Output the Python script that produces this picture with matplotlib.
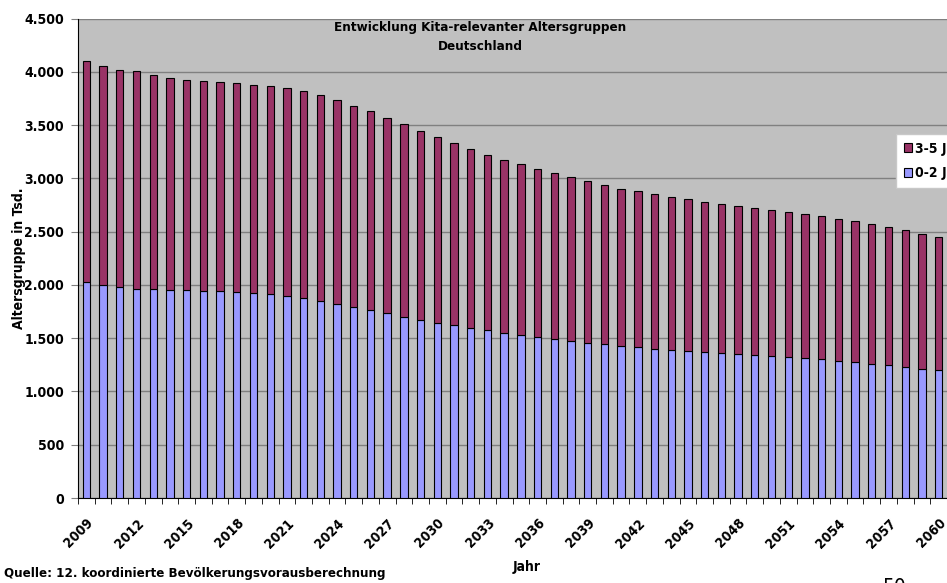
import numpy as np
import matplotlib
matplotlib.use("Agg")
import matplotlib.pyplot as plt
import matplotlib.transforms as mtrans
from matplotlib.ticker import FuncFormatter, FixedLocator

plt.rcParams['font.family'] = ['DejaVu Sans']
plt.rcParams['font.stretch'] = 'condensed'

# Jahre 2009 - 2060
years = list(range(2009, 2061))

# Gesamt (0-5 J) in Tsd.
total = [4100, 4053, 4019, 4003, 3966, 3937, 3925, 3916, 3906, 3894,
         3878, 3866, 3844, 3816, 3778, 3734, 3681, 3628, 3569, 3506,
         3444, 3384, 3328, 3272, 3222, 3175, 3134, 3091, 3050, 3009,
         2972, 2941, 2903, 2878, 2853, 2828, 2803, 2781, 2763, 2741,
         2725, 2706, 2688, 2669, 2647, 2622, 2597, 2572, 2544, 2516,
         2481, 2453]

# 0-2 J in Tsd.
age_0_2 = [2028, 2003, 1978, 1966, 1959, 1956, 1948, 1946, 1943, 1936,
           1926, 1914, 1900, 1878, 1850, 1825, 1797, 1762, 1734, 1703,
           1672, 1647, 1619, 1591, 1572, 1553, 1531, 1509, 1491, 1472,
           1456, 1441, 1425, 1413, 1400, 1388, 1378, 1369, 1363, 1353,
           1344, 1331, 1322, 1313, 1300, 1288, 1275, 1259, 1244, 1228,
           1209, 1197]

# 3-5 J = Gesamt - 0-2 J
age_3_5 = [t - a for t, a in zip(total, age_0_2)]

col_blue = '#9999ff'
col_red = '#993366'

fig = plt.figure(figsize=(9.47, 5.83), dpi=100)
W, H = 947, 583
ax = fig.add_axes([78 / W, (H - 498) / H, 869 / W, (498 - 18.5) / H])
ax.set_facecolor('#c0c0c0')

x = np.arange(len(years))
ax.bar(x, age_0_2, width=0.44, color=col_blue, edgecolor='black', linewidth=0.8,
       label='0-2 J', zorder=3)
ax.bar(x, age_3_5, width=0.44, bottom=age_0_2, color=col_red, edgecolor='black',
       linewidth=0.8, label='3-5 J', zorder=3)

ax.set_xlim(-0.5, len(years) - 0.5)
ax.set_ylim(0, 4500)
ax.set_yticks(np.arange(0, 4501, 500))
ax.yaxis.set_major_formatter(FuncFormatter(lambda v, p: f"{int(v):,}".replace(',', '.')))
ax.grid(axis='y', color='#808080', linewidth=1, zorder=0)

# Tick-Marken zwischen den Kategorien, Beschriftung jede 3. Kategorie
ax.xaxis.set_minor_locator(FixedLocator(np.arange(-0.5, len(years), 1)))
ax.set_xticks(x[::3])
ax.set_xticklabels([str(y) for y in years[::3]], rotation=45, ha='right', va='top',
                   rotation_mode='anchor', fontsize=10, fontweight='bold')
shift = mtrans.ScaledTranslation(3 / 100, 0, fig.dpi_scale_trans)
for lab in ax.get_xticklabels():
    lab.set_transform(lab.get_transform() + shift)
ax.tick_params(axis='x', which='major', length=0, pad=13)
ax.tick_params(axis='x', which='minor', length=4, color='black')
ax.tick_params(axis='y', length=5, color='#808080', labelsize=10, pad=5)
for lab in ax.get_yticklabels():
    lab.set_fontweight('bold')

for s in ['top', 'right']:
    ax.spines[s].set_visible(False)
ax.spines['left'].set_color('black')
ax.spines['bottom'].set_color('black')

ax.set_ylabel('Altersgruppe in Tsd.', fontsize=10, fontweight='bold')
ax.yaxis.set_label_coords(-52 / 869, 0.5)

fig.text(480 / W, 1 - 28 / H, 'Entwicklung Kita-relevanter Altersgruppen',
         ha='center', va='center', fontsize=9.6, fontweight='bold')
fig.text(480 / W, 1 - 47 / H, 'Deutschland', ha='center', va='center',
         fontsize=9.6, fontweight='bold')

handles, labels = ax.get_legend_handles_labels()
leg = fig.legend(handles[::-1], labels[::-1], loc='upper left',
                 bbox_to_anchor=(896 / W, 1 - 134 / H), frameon=True,
                 fancybox=False, edgecolor='#c8c8c8', facecolor='white',
                 framealpha=1, handlelength=0.6, handleheight=0.6,
                 handletextpad=0.25, borderpad=0.55, labelspacing=0.75,
                 borderaxespad=0,
                 prop={'size': 10, 'weight': 'bold', 'stretch': 'condensed'})

fig.text(527 / W, 1 - 567 / H, 'Jahr', ha='center', va='center',
         fontsize=10, fontweight='bold')
fig.text(4 / W, 1 - 573 / H, 'Quelle: 12. koordinierte Bevölkerungsvorausberechnung',
         ha='left', va='center', fontsize=9.5, fontweight='bold')
fig.text(883 / W, 1 - 578 / H, '50', ha='left', va='top', fontsize=15)

fig.savefig('out.png', dpi=100)
